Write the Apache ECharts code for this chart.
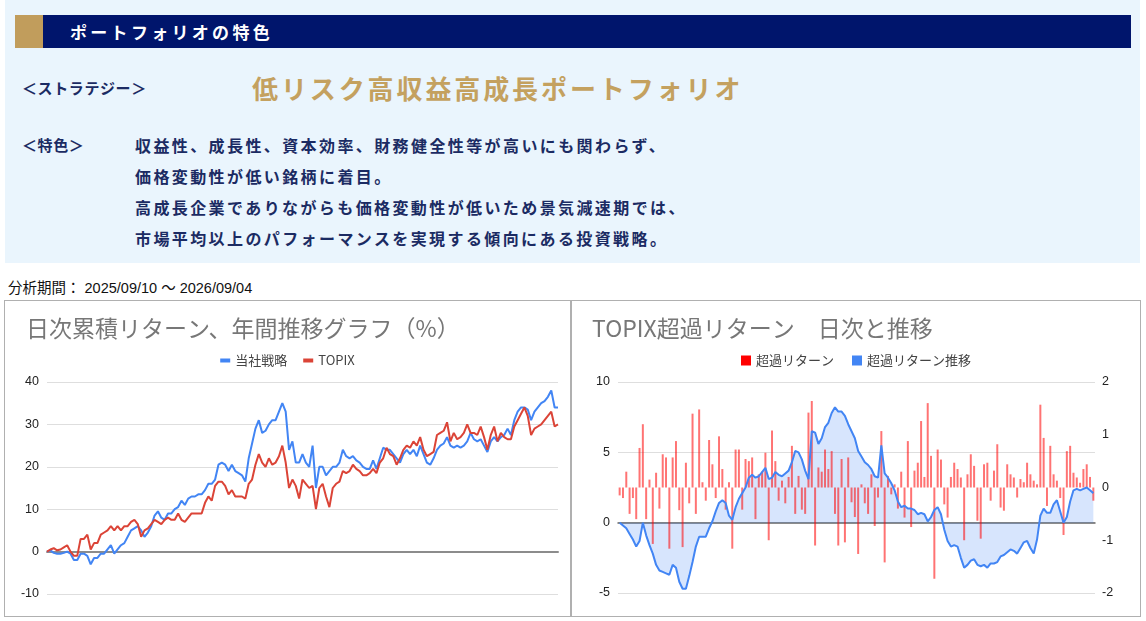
<!DOCTYPE html>
<html>
<head>
<meta charset="utf-8">
<script src="https://cdn.jsdelivr.net/npm/echarts@6/dist/echarts.min.js"></script>
<style>
  html, body { margin:0; padding:0; background:#ffffff; width:1146px; height:621px; overflow:hidden; }
  body { position:relative; font-family:"Noto Sans CJK JP", "Noto Sans", sans-serif; }
  .abs { position:absolute; white-space:nowrap; }
  #info { left:5px; top:0; width:1135px; height:263px; background:#eaf5fd; }
  #gold { left:15px; top:15px; width:28px; height:33px; background:#c19d5c; }
  #navy { left:43px; top:15px; width:1088px; height:33px; background:#00156c; }
  #head { left:70px; top:15px; height:33px; line-height:33px; color:#fff; font-size:17px; font-weight:bold; letter-spacing:3.3px; }
  .lbl { color:#1b2b63; font-size:15px; font-weight:bold; letter-spacing:0.6px; height:30px; line-height:30px; }
  #strat { left:252px; top:71px; height:34px; line-height:34px; color:#c4a15f; font-size:26px; font-weight:bold; letter-spacing:2.9px; }
  .body { left:135px; color:#1b2b63; font-size:16px; font-weight:bold; letter-spacing:2.4px; height:30px; line-height:30px; }
  #period { left:8px; top:279px; height:18px; line-height:18px; font-size:14.5px; color:#111;
            font-family:"Liberation Sans", Arial, "Noto Sans CJK JP", sans-serif; }
  #frame { left:4px; top:300px; width:1135px; height:315px; border:1.5px solid #b0b0b0; }
  #divider { left:570px; top:300px; width:1.5px; height:317px; background:#b0b0b0; }
  #c1 { left:5px; top:301px; width:565px; height:315px; }
  #c2 { left:572px; top:301px; width:568px; height:315px; }
</style>
</head>
<body>
<div id="info" class="abs"></div>
<div id="gold" class="abs"></div>
<div id="navy" class="abs"></div>
<div id="head" class="abs"></div>
<div id="lblStrat" class="abs lbl" style="left:22px;top:73px;"></div>
<div id="strat" class="abs"></div>
<div id="lblFeat" class="abs lbl" style="left:22px;top:130px;"></div>
<div id="b0" class="abs body" style="top:130px;"></div>
<div id="b1" class="abs body" style="top:161px;"></div>
<div id="b2" class="abs body" style="top:192px;"></div>
<div id="b3" class="abs body" style="top:223px;"></div>
<div id="period" class="abs"></div>
<div id="frame" class="abs"></div>
<div id="divider" class="abs"></div>
<div id="c1" class="abs"></div>
<div id="c2" class="abs"></div>
<script>
// ---------- texts ----------
const headerTitle = "ポートフォリオの特色";
const strategyLabel = "＜ストラテジー＞";
const strategyName = "低リスク高収益高成長ポートフォリオ";
const featureLabel = "＜特色＞";
const featureLines = [
  "収益性、成長性、資本効率、財務健全性等が高いにも関わらず、",
  "価格変動性が低い銘柄に着目。",
  "高成長企業でありながらも価格変動性が低いため景気減速期では、",
  "市場平均以上のパフォーマンスを実現する傾向にある投資戦略。"
];
const periodLabel = "分析期間：";
const periodStart = "2025/09/10";
const periodEnd = "2026/09/04";

const chart1Title = "日次累積リターン、年間推移グラフ（%）";
const chart1Series = ["当社戦略", "TOPIX"];
const chart1Ticks = [-10, 0, 10, 20, 30, 40];

const chart2Title = "TOPIX超過リターン　日次と推移";
const chart2Series = ["超過リターン", "超過リターン推移"];
const chart2LeftTicks = [-5, 0, 5, 10];
const chart2RightTicks = [-2, -1, 0, 1, 2];

// ---------- data: cumulative returns (%) ----------
const strategyReturn = [
  0, 0.3, -0.3, -0.5, -0.5, -0.3, 0, -0.5, -2, -2, -0.5, -0.5, -1, -3, -1.5, -1.5, -0.5, -0.5, 0.5, 1.5,
  -0.5, 0.5, 1.5, 2, 3.5, 5, 5.5, 6, 5, 3.5, 4.5, 6, 8.5, 9.5, 8, 7.5, 9, 9, 10, 10.5,
  12, 11, 12.5, 13, 13, 13.5, 13.5, 14.5, 16, 16, 17, 20.5, 21, 20.5, 19, 20.5, 19, 18.5, 18, 16.5,
  22, 25.5, 29, 31, 28, 28.5, 30, 31, 31, 33, 35, 33, 24, 26, 21,
  21, 23, 21, 20, 25, 15, 20, 20, 18, 19, 20, 20, 21, 24, 22.5, 22, 22.5, 21.5, 21, 20,
  19.5, 19.5, 21.5, 19.5, 22, 24.5, 24, 24, 23, 22, 21, 23, 24, 23, 24, 22.5, 25, 23, 21, 20.5,
  22, 24, 25, 25.5, 27, 25, 24.5, 25, 24.5, 25, 26, 28, 26.5, 26, 26.5, 25, 23.5, 26, 27, 26,
  27, 27.5, 29, 27.5, 31, 33, 34, 34, 33.5, 31, 33, 34, 35, 35.5, 36.5, 38, 34, 34
];
const topixReturn = [
  0, 0.5, 0.8, 0.3, 0.5, 1, 1.5, 0, -1, -1, 3, 3, 4, 0.5, 2, 2, 4, 4.5, 5, 6,
  5, 6, 5, 6, 6, 7, 7.5, 6.5, 3.5, 5, 5.5, 6.5, 7.5, 7, 6.5, 7.5, 8, 7.5, 7.5, 9,
  7.5, 7, 8, 9, 9, 9, 9, 11.5, 13, 12, 15.5, 16.5, 16.5, 15.5, 13.5, 14.5, 13, 13, 13, 12.5,
  16, 17, 20.5, 23, 21, 20, 22, 20.5, 21, 22.5, 25, 21, 15, 17, 15.5,
  12.5, 17, 16, 15, 15.5, 10, 15, 16, 13, 10.5, 15, 16, 16.5, 19, 18.5, 19, 20.5, 19.5, 19, 18,
  18, 18.5, 19.5, 18.5, 21, 22, 24.5, 23, 22.5, 20.5, 22, 24, 25, 24.5, 26, 25, 27, 24, 22.5, 23,
  23.5, 27.5, 28, 28.5, 30.5, 26, 28, 26.5, 27, 28, 30, 28, 28, 27.5, 29.5, 27, 24, 27.5, 29.5, 26,
  28, 27, 26.5, 26.5, 29.5, 31, 32.5, 34, 32, 27.5, 29, 29.5, 30, 31, 32, 33, 29.5, 30
];

// ---------- data: excess return vs TOPIX ----------
const excessDaily = [
  -0.15, -0.2, 0.3, -0.5, -0.2, -0.6, 0.75, 1.2, -0.6, 0.15, -1.07, 0.28, -0.4, 0.63, 0.57, -1.16, 0.57, 0.88, -0.43, -1.13,
  0.47, -0.3, 1.4, -0.5, 1.48, 0.1, -0.25, 0.9, 0.44, -0.2, 0.97, 0.35, -0.42, 0.1, -1.16, 0.72, 0.72, -0.42, 0.54, 0.5,
  0.57, -0.6, 0.25, 0.3, 0.66, -1.0, 1.08, 0.5, -0.25, 0.13, -0.3, 0.2, 0.79, -0.5, 0.22, -0.42, -0.5, 1.42, 1.64, -1.1,
  0.38, 0.3, 0.72, 0.35, 0.69, -0.5, -1.1, 0.54, -1.04, 0.57, -0.28, -0.56, -1.26,
  0.06, -0.3, -0.5, 0.25, -0.73, -0.19, 1.07, -1.42, 0.22, -0.13, 0.06, -0.4, 0.3, -0.57, 0.88, -0.75, 0.32, 0.47, 1.26, 0.2,
  1.6, 0.6, -1.73, 0.72, 0.53, -0.32, -0.57, 0.2, 0.47, 0.35, 0.19, -1.0, 0.25, 0.63, 0.41, -0.63, -0.97, 0.44, 0.47, -0.25,
  0.32, 0.82, -0.38, -0.44, 0.44, 0.25, 0.19, -0.19, 0.16, 0.1, 0.47, 0.25, 0.13, 0.06, 1.57, 0.94, -0.35, 0.79, 0.25, 0.13,
  -0.2, -0.9, 0.69, 0.79, 0.28, 0.19, 0.09, 0.35, 0.44, 0.2, -0.25
];
const excessTrend = [
  0, -0.2, -0.4, -0.8, -1.2, -1.7, -1.3, 0, -0.9, -1.6, -2.2, -3.0, -3.4, -3.5, -3.6, -3.7, -3.0, -3.2, -4.2, -4.7,
  -4.7, -3.8, -2.8, -1.7, -1.0, -1.0, -1.0, -0.4, 0.1, 0.8, 1.4, 1.6, 1.4, 0.5, 0.2, 1.1, 1.7, 2.1, 2.5, 3.2,
  3.4, 3.2, 3.3, 3.6, 3.9, 3.1, 3.2, 3.6, 3.4, 3.3, 3.5, 3.7, 4.3, 5.1, 5.0, 4.5, 3.7, 3.1, 6.5, 6.4,
  5.6, 6.0, 6.8, 7.1, 7.8, 8.2, 7.9, 7.9, 7.6, 7.0, 6.5, 6.0, 5.1,
  4.7, 4.3, 4.1, 3.8, 3.3, 3.2, 5.5, 3.5, 3.2, 2.8, 2.3, 1.5, 1.1, 1.2, 1.0, 1.0, 0.9, 0.6, 0.7, 0.6,
  0.1, 0.4, 0.9, 1.1, 0.6, -0.5, -1.3, -1.7, -1.6, -1.7, -2.5, -3.2, -3.0, -2.7, -2.6, -3.0, -3.1, -3.0, -3.2, -2.9,
  -2.9, -2.8, -2.4, -2.3, -2.1, -1.9, -2.0, -2.2, -1.8, -1.4, -1.3, -1.8, -2.2, -1.2, 0.5, 1.0, 0.7, 0.7, 1.3, 1.6,
  0.8, 0.0, 0.4, 1.5, 2.3, 2.4, 2.3, 2.4, 2.5, 2.3, 2.1
];

// ---------- fill text ----------
document.getElementById('head').textContent = headerTitle;
document.getElementById('lblStrat').textContent = strategyLabel;
document.getElementById('strat').textContent = strategyName;
document.getElementById('lblFeat').textContent = featureLabel;
featureLines.forEach((t, i) => { document.getElementById('b' + i).textContent = t; });
document.getElementById('period').textContent = periodLabel + " " + periodStart + " ～ " + periodEnd;

const numFont = '"Liberation Sans", Arial, "Noto Sans CJK JP", sans-serif';
const cjkFont = '"Noto Sans CJK JP", "Noto Sans", sans-serif';

// ---------- chart 1 ----------
const cats1 = strategyReturn.map((_, i) => i);
const chart1 = echarts.init(document.getElementById('c1'), null, { renderer: 'canvas' });
chart1.setOption({
  animation: false,
  title: {
    text: chart1Title, left: 16, top: 11,
    textStyle: { fontFamily: cjkFont, fontSize: 23, fontWeight: 'normal', color: '#777777' }
  },
  legend: {
    data: chart1Series, left: 'center', top: 48, itemWidth: 10, itemHeight: 4, itemGap: 16, icon: 'rect',
    textStyle: { fontFamily: cjkFont, fontSize: 13, color: '#444' }
  },
  grid: { left: 42, right: 12, top: 81, bottom: 22 },
  xAxis: {
    type: 'category', data: cats1, boundaryGap: false,
    axisLabel: { show: false }, axisTick: { show: false },
    axisLine: { show: true, onZero: true, lineStyle: { color: '#8c8c8c', width: 2 } },
    splitLine: { show: false }
  },
  yAxis: {
    type: 'value', min: chart1Ticks[0], max: chart1Ticks[chart1Ticks.length - 1], interval: 10,
    axisLine: { show: false }, axisTick: { show: false },
    axisLabel: { fontFamily: numFont, fontSize: 12.5, color: '#222', margin: 8 },
    splitLine: { lineStyle: { color: '#dedede', width: 1 } }
  },
  series: [
    { name: chart1Series[0], type: 'line', data: strategyReturn, showSymbol: false, symbol: 'none',
      lineStyle: { color: '#4285f4', width: 2 }, itemStyle: { color: '#4285f4' } },
    { name: chart1Series[1], type: 'line', data: topixReturn, showSymbol: false, symbol: 'none',
      lineStyle: { color: '#db4437', width: 2 }, itemStyle: { color: '#db4437' } }
  ]
});

// ---------- chart 2 ----------
const cats2 = excessDaily.map((_, i) => i);
const chart2 = echarts.init(document.getElementById('c2'), null, { renderer: 'canvas' });
chart2.setOption({
  animation: false,
  title: {
    text: chart2Title, left: 15, top: 11,
    textStyle: { fontFamily: cjkFont, fontSize: 23, fontWeight: 'normal', color: '#777777' }
  },
  legend: {
    data: [
      { name: chart2Series[0], itemStyle: { color: '#ff0000', opacity: 1 } },
      { name: chart2Series[1], itemStyle: { color: '#4285f4', opacity: 1 } }
    ],
    left: 'center', top: 48, itemWidth: 10, itemHeight: 10, itemGap: 18, icon: 'rect',
    textStyle: { fontFamily: cjkFont, fontSize: 13, color: '#444' }
  },
  grid: { left: 46, right: 45, top: 81, bottom: 23 },
  xAxis: {
    type: 'category', data: cats2, boundaryGap: true,
    axisLabel: { show: false }, axisTick: { show: false },
    axisLine: { show: true, onZero: true, onZeroAxisIndex: 0, lineStyle: { color: '#666', width: 1.5 } },
    splitLine: { show: false }
  },
  yAxis: [
    { type: 'value', min: chart2LeftTicks[0], max: chart2LeftTicks[chart2LeftTicks.length - 1], interval: 5,
      axisLine: { show: false }, axisTick: { show: false },
      axisLabel: { fontFamily: numFont, fontSize: 12.5, color: '#222', margin: 8 },
      splitLine: { lineStyle: { color: '#dedede', width: 1 } } },
    { type: 'value', min: chart2RightTicks[0], max: chart2RightTicks[chart2RightTicks.length - 1], interval: 1,
      position: 'right', alignTicks: false,
      axisLine: { show: false }, axisTick: { show: false },
      axisLabel: { fontFamily: numFont, fontSize: 12.5, color: '#222', margin: 7 },
      splitLine: { show: false } }
  ],
  series: [
    { name: chart2Series[1], type: 'line', yAxisIndex: 0, data: excessTrend, showSymbol: false, symbol: 'none',
      lineStyle: { width: 0, color: '#4285f4' }, itemStyle: { color: '#4285f4' },
      areaStyle: { color: 'rgba(66,133,244,0.3)' }, z: 1 },
    { name: chart2Series[0], type: 'bar', yAxisIndex: 1, data: excessDaily, barWidth: 2,
      itemStyle: { color: 'rgba(255,0,0,0.55)' }, z: 2 },
    { name: chart2Series[1], type: 'line', yAxisIndex: 0, data: excessTrend, showSymbol: false, symbol: 'none',
      lineStyle: { width: 2, color: '#4285f4' }, itemStyle: { color: '#4285f4' }, z: 3 }
  ]
});
</script>
</body>
</html>
